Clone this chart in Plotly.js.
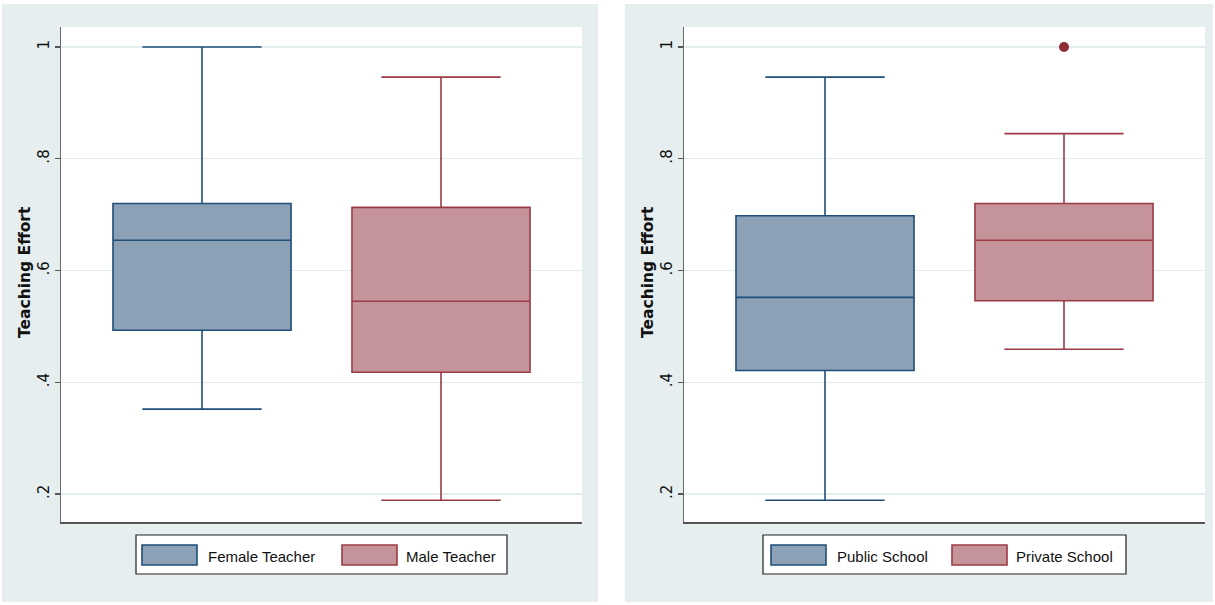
<!DOCTYPE html>
<html>
<head>
<meta charset="utf-8">
<script src="https://cdn.plot.ly/plotly-3.0.1.min.js"></script>
<style>html,body{margin:0;padding:0;background:#fff;}#chart{width:1215px;height:605px;}</style>
</head>
<body>
<div id="chart"></div>
<script>
// ---- data ----
var genderCats = ['Female Teacher', 'Male Teacher'];
var genderQ1 = [0.493, 0.418];
var genderMedian = [0.654, 0.545];
var genderQ3 = [0.720, 0.713];
var genderLower = [0.352, 0.189];
var genderUpper = [1.000, 0.946];

var schoolCats = ['Public School', 'Private School'];
var schoolQ1 = [0.421, 0.546];
var schoolMedian = [0.552, 0.654];
var schoolQ3 = [0.698, 0.720];
var schoolLower = [0.189, 0.459];
var schoolUpper = [0.946, 0.845];

var outlierCats = ['Private School'];
var outlierValues = [1.000];

var yTickVals = [0.2, 0.4, 0.6, 0.8, 1];
var yTickText = ['.2', '.4', '.6', '.8', '1'];
var yTitle = 'Teaching Effort';

// ---- styles ----
var fills = ['#8ca1b6', '#c4949a'];
var lines = ['#1f4e79', '#9c3b43'];
var W = 1215, H = 605;
var FONT = 'Liberation Sans, Arial, sans-serif';
var WIDE = 'DejaVu Sans, Verdana, sans-serif';

function boxTrace(cat, i, q1, med, q3, lo, hi, xa, ya) {
  return {
    type: 'box', x: [cat], q1: [q1[i]], median: [med[i]], q3: [q3[i]],
    lowerfence: [lo[i]], upperfence: [hi[i]],
    xaxis: xa, yaxis: ya, width: 0.745, whiskerwidth: 0.67,
    fillcolor: fills[i], line: {color: lines[i], width: 1.6},
    boxpoints: false, showlegend: false, hoverinfo: 'y'
  };
}

var data = [];
for (var i = 0; i < 2; i++) {
  data.push(boxTrace(genderCats[i], i, genderQ1, genderMedian, genderQ3, genderLower, genderUpper, 'x', 'y'));
}
for (var j = 0; j < 2; j++) {
  data.push(boxTrace(schoolCats[j], j, schoolQ1, schoolMedian, schoolQ3, schoolLower, schoolUpper, 'x2', 'y2'));
}
data.push({
  type: 'scatter', mode: 'markers', x: outlierCats, y: outlierValues,
  xaxis: 'x2', yaxis: 'y2', showlegend: false,
  marker: {color: '#8e2f37', size: 10, line: {width: 0}}
});

var ydom = [1 - 522 / H, 1 - 27 / H];
function yax() {
  return {
    domain: ydom, range: [0.15, 1.0357], tickvals: yTickVals, ticktext: yTickText,
    tickangle: -90, ticks: 'outside', ticklen: 5, tickcolor: '#555', tickwidth: 1.2,
    showgrid: true, gridcolor: '#e3ecee', gridwidth: 1.5, zeroline: false,
    showline: true, linecolor: '#6a6a6a', linewidth: 1.5,
    tickfont: {family: WIDE, size: 15, color: '#111'},
    fixedrange: true
  };
}
function xax(dom, cats) {
  return {
    domain: dom, type: 'category', categoryarray: cats, categoryorder: 'array',
    range: [-0.59, 1.59], showticklabels: false, ticks: '', showgrid: false, zeroline: false,
    showline: true, linecolor: '#555', linewidth: 1.5, fixedrange: true
  };
}

var shapes = [];
var annotations = [];
function rectPx(x0, y0, x1, y1, fill, lineColor, lw) {
  return {type: 'rect', xref: 'paper', yref: 'paper', layer: 'below',
    x0: x0 / W, x1: x1 / W, y0: 1 - y1 / H, y1: 1 - y0 / H,
    fillcolor: fill, line: {color: lineColor || fill, width: lw || 0}};
}
shapes.push(rectPx(2, 4, 598, 602, '#e6eef0'));
shapes.push(rectPx(625, 4, 1213, 602, '#e6eef0'));
shapes.push(rectPx(61, 27, 582, 522, '#ffffff'));
shapes.push(rectPx(684, 27, 1205, 522, '#ffffff'));

// y-axis titles (rotated)
[25, 648].forEach(function (xc) {
  annotations.push({xref: 'paper', yref: 'paper', x: xc / W, y: 1 - 272 / H,
    xanchor: 'center', yanchor: 'middle', textangle: -90, showarrow: false,
    text: yTitle, font: {family: WIDE, size: 15.5, color: '#111', weight: 'bold'}});
});

function legend(bx0, bx1, cats, keyX, textX) {
  shapes.push(rectPx(bx0, 535, bx1, 574, '#ffffff', '#222', 1.2));
  for (var k = 0; k < cats.length; k++) {
    shapes.push(rectPx(keyX[k], 545, keyX[k] + 55, 565, fills[k], lines[k], 1.6));
    annotations.push({xref: 'paper', yref: 'paper', x: textX[k] / W, y: 1 - 556 / H,
      xanchor: 'left', yanchor: 'middle', showarrow: false, text: cats[k],
      font: {family: FONT, size: 15, color: '#111'}});
  }
}
legend(136, 507, genderCats, [142, 342], [206, 404]);
legend(763, 1126, schoolCats, [771, 952], [835, 1014]);

var layout = {
  width: W, height: H, margin: {l: 0, r: 0, t: 0, b: 0},
  paper_bgcolor: '#ffffff', plot_bgcolor: 'rgba(0,0,0,0)',
  showlegend: false, boxmode: 'overlay',
  xaxis: xax([61 / W, 582 / W], genderCats),
  yaxis: yax(),
  xaxis2: xax([684 / W, 1205 / W], schoolCats),
  yaxis2: yax(),
  shapes: shapes, annotations: annotations
};
layout.yaxis2.anchor = 'x2';
layout.xaxis2.anchor = 'y2';

Plotly.newPlot('chart', data, layout, {displayModeBar: false, staticPlot: true});
</script>
</body>
</html>
